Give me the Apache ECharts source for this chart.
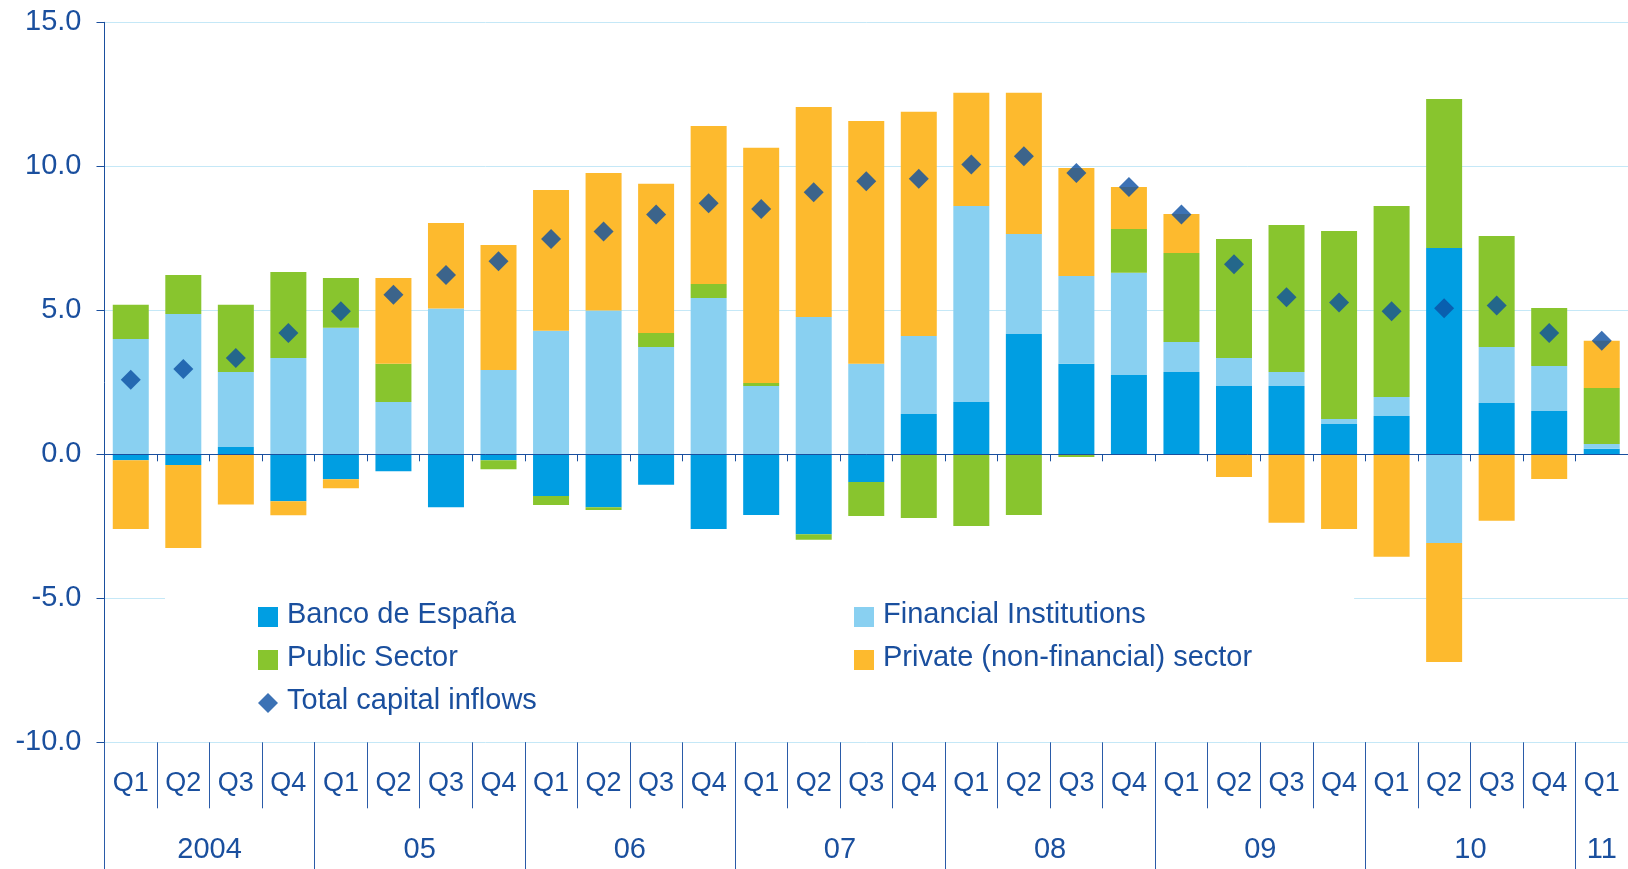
<!DOCTYPE html>
<html>
<head>
<meta charset="utf-8">
<script src="https://cdn.jsdelivr.net/npm/echarts@6/dist/echarts.min.js"></script>
<style>
html, body { margin: 0; padding: 0; background: #fff; }
#chart { width: 1628px; height: 869px; }
</style>
</head>
<body>
<div id="chart"></div>
<script>
// quarters 2004 Q1 .. 2011 Q1
var quarters = ['Q1', 'Q2', 'Q3', 'Q4', 'Q1', 'Q2', 'Q3', 'Q4', 'Q1', 'Q2', 'Q3', 'Q4', 'Q1', 'Q2', 'Q3', 'Q4',
	'Q1', 'Q2', 'Q3', 'Q4', 'Q1', 'Q2', 'Q3', 'Q4', 'Q1', 'Q2', 'Q3', 'Q4', 'Q1'];
var years = ['2004', '05', '06', '07', '08', '09', '10', '11'];

var bancoEspana = [-0.21, -0.37, 0.25, -1.63, -0.87, -0.59, -1.84, -0.21, -1.45, -1.84, -1.06, -2.59, -2.11, -2.78, -0.96,
	1.40, 1.82, 4.18, 3.14, 2.75, 2.86, 2.37, 2.37, 1.05, 1.33, 7.16, 1.78, 1.50, 0.19];
var financialInst = [4.00, 4.87, 2.61, 3.34, 4.39, 1.82, 5.06, 2.93, 4.29, 4.99, 3.73, 5.43, 2.37, 4.77, 3.14,
	2.71, 6.80, 3.47, 3.05, 3.55, 1.04, 0.97, 0.49, 0.18, 0.66, -3.08, 1.95, 1.57, 0.17];
var publicSector = [1.19, 1.36, 2.33, 2.99, 1.73, 1.32, 0, -0.31, -0.31, -0.09, 0.48, 0.48, 0.11, -0.19, -1.18,
	-2.21, -2.49, -2.11, -0.09, 1.52, 3.09, 4.14, 5.10, 6.52, 6.63, 5.18, 3.85, 2.01, 1.94];
var privateSector = [-2.38, -2.88, -1.74, -0.49, -0.31, 2.98, 2.97, 4.34, 4.89, 4.78, 5.18, 5.49, 8.16, 7.29, 8.43,
	7.78, 3.93, 4.90, 3.75, 1.46, 1.35, -0.79, -2.38, -2.59, -3.56, -4.13, -2.31, -0.86, 1.64];
var totalInflows = [2.59, 2.96, 3.34, 4.21, 4.97, 5.54, 6.23, 6.70, 7.48, 7.74, 8.33, 8.72, 8.52, 9.10, 9.48,
	9.57, 10.06, 10.35, 9.77, 9.28, 8.33, 6.60, 5.45, 5.27, 4.97, 5.07, 5.17, 4.21, 3.94];

var navy = '#1a4f9e';
var font = 'Liberation Sans, Arial, sans-serif';

// year row: half-step points so labels sit in the middle of each year
var yearAxisData = [];
for (var j = 0; j <= quarters.length * 2; j++) yearAxisData.push('');
years.forEach(function (y, k) {
	var first = k * 8;
	var last = Math.min(first + 8, quarters.length * 2);
	yearAxisData[(first + last) / 2] = y;
});

var leftCol = ['Banco de España', 'Public Sector', 'Total capital inflows'];

var barSeries = function (name, values, color) {
	return {
		name: name,
		type: 'bar',
		stack: 'flows',
		barWidth: 36,
		xAxisIndex: 0,
		itemStyle: { color: color },
		data: values
	};
};

var option = {
	backgroundColor: '#fff',
	animation: false,
	textStyle: { fontFamily: font },
	grid: { left: 104.5, top: 22.3, width: 1535.8, height: 720 },
	legend: {
		left: 165,
		top: 590.5,
		width: 1030,
		padding: [10, 102, 12, 93],
		backgroundColor: '#fff',
		itemWidth: 20,
		itemHeight: 20,
		itemGap: 10,
		data: [
			{ name: 'Banco de España', icon: 'rect' },
			{ name: 'Financial Institutions', icon: 'rect' },
			{ name: 'Public Sector', icon: 'rect' },
			{ name: 'Private (non-financial) sector', icon: 'rect' },
			{ name: 'Total capital inflows', icon: 'diamond' }
		],
		formatter: function (name) {
			return (leftCol.indexOf(name) >= 0 ? '{a|' : '{b|') + name + '}';
		},
		textStyle: {
			fontFamily: font,
			fontSize: 29,
			color: navy,
			rich: {
				a: { fontFamily: font, fontSize: 29, color: navy, width: 557, lineHeight: 20, padding: [0, 0, 4, 4] },
				b: { fontFamily: font, fontSize: 29, color: navy, lineHeight: 20, padding: [0, 0, 4, 4] }
			}
		}
	},
	xAxis: [{
		// zero line with small ticks
		type: 'category',
		data: quarters,
		position: 'bottom',
		z: 3,
		axisLine: { onZero: true, lineStyle: { color: navy, width: 1 } },
		axisTick: { show: true, length: 7, lineStyle: { color: navy } },
		axisLabel: { show: false }
	}, {
		// quarter row
		type: 'category',
		data: quarters,
		position: 'bottom',
		axisLine: { show: false, onZero: false },
		axisTick: { show: true, interval: 0, length: 66, lineStyle: { color: '#2a5ba8' } },
		axisLabel: {
			interval: 0, margin: 41, verticalAlign: 'middle',
			fontFamily: font, fontSize: 27, color: navy
		}
	}, {
		// year row
		type: 'category',
		data: yearAxisData,
		boundaryGap: false,
		position: 'bottom',
		axisLine: { show: false, onZero: false },
		axisTick: {
			show: true, length: 130,
			interval: function (i) { return i % 8 === 0; },
			lineStyle: { color: '#2a5ba8' }
		},
		axisLabel: {
			interval: function (i, v) { return v !== ''; },
			margin: 108, verticalAlign: 'middle',
			fontFamily: font, fontSize: 29, color: navy
		}
	}],
	yAxis: {
		type: 'value',
		min: -10,
		max: 15,
		interval: 5,
		axisLine: { show: true, lineStyle: { color: navy, width: 1 } },
		axisTick: { show: true, length: 8, lineStyle: { color: navy } },
		axisLabel: {
			margin: 23, fontFamily: font, fontSize: 29, color: navy,
			formatter: function (v) { return v.toFixed(1); }
		},
		splitLine: { lineStyle: { color: '#c5e8f7', width: 1 } }
	},
	series: [
		barSeries('Banco de España', bancoEspana, '#009ee2'),
		barSeries('Financial Institutions', financialInst, '#89d0f1'),
		barSeries('Public Sector', publicSector, '#88c52e'),
		barSeries('Private (non-financial) sector', privateSector, '#fdba2e'),
		{
			name: 'Total capital inflows',
			type: 'scatter',
			symbol: 'diamond',
			symbolSize: 20,
			z: 3,
			itemStyle: { color: '#0b4fa3' },
			data: totalInflows
		}
	]
};

var myChart = echarts.init(document.getElementById('chart'));
myChart.setOption(option);
</script>
</body>
</html>
